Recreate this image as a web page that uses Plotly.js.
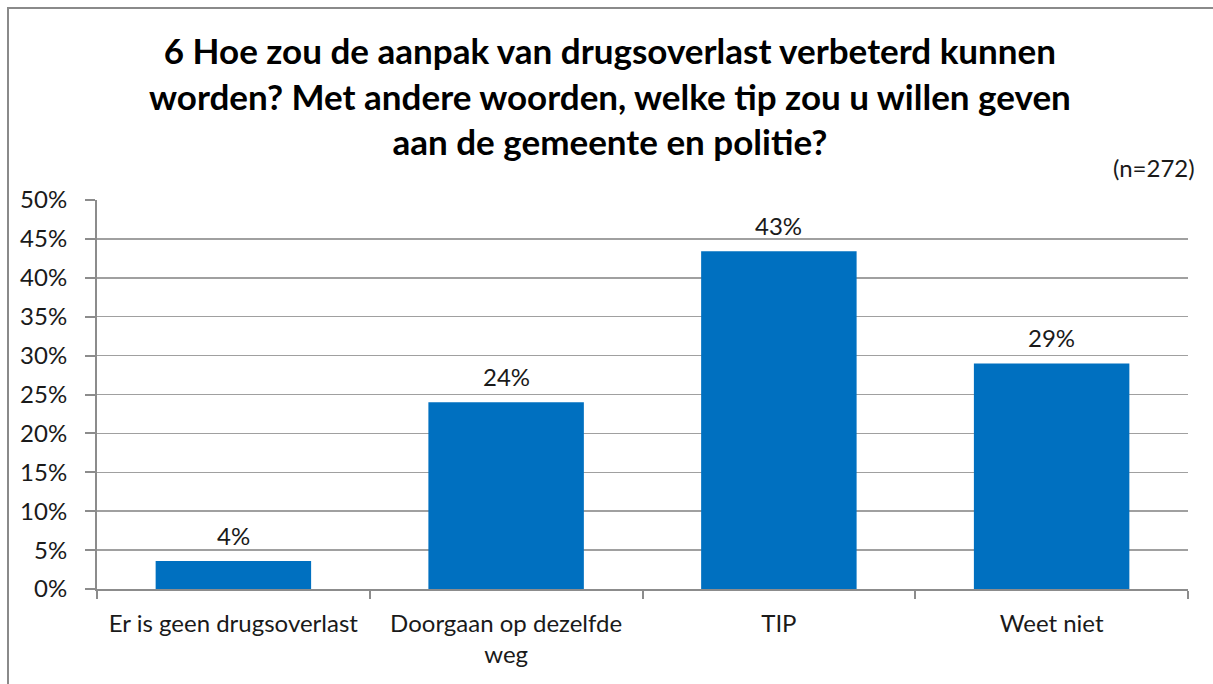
<!DOCTYPE html>
<html>
<head>
<meta charset="utf-8">
<script src="https://cdn.plot.ly/plotly-3.0.1.min.js"></script>
<style>
  html, body { margin: 0; padding: 0; background: #fff; }
  #chart { width: 1213px; height: 684px; }
  #frame { position: absolute; left: 7px; top: 7px; width: 1400px; height: 900px;
           border-left: 2px solid #8a8a8a; border-top: 2px solid #8a8a8a; pointer-events: none; }
</style>
</head>
<body>
<div id="chart"></div>
<div id="frame"></div>
<script>
const categories = ["Er is geen drugsoverlast", "Doorgaan op dezelfde<br>weg", "TIP", "Weet niet"];
const values = [3.6, 24.0, 43.4, 29.0];
const valueLabels = ["4%", "24%", "43%", "29%"];
const yTickVals = [0, 5, 10, 15, 20, 25, 30, 35, 40, 45, 50];
const yTickText = ["0%", "5%", "10%", "15%", "20%", "25%", "30%", "35%", "40%", "45%", "50%"];
const titleText = "6 Hoe zou de aanpak van drugsoverlast verbeterd kunnen<br>worden? Met andere woorden, welke tip zou u willen geven<br>aan de gemeente en politie?";
const noteText = "(n=272)";

const font = "Lato, 'Open Sans', sans-serif";

const trace = {
  type: "bar",
  x: categories,
  y: values,
  marker: { color: "#0070C0" },
  width: 0.57,
  hoverinfo: "skip"
};

const valueAnnotations = categories.map((c, i) => ({
  x: c, y: values[i], xref: "x", yref: "y",
  text: valueLabels[i],
  showarrow: false,
  xanchor: "center", yanchor: "bottom",
  yshift: 9,
  font: { family: font, size: 24, color: "#1a1a1a" }
}));

const layout = {
  width: 1213,
  height: 684,
  margin: { l: 97, r: 25, t: 200, b: 95 },
  paper_bgcolor: "#ffffff",
  plot_bgcolor: "#ffffff",
  showlegend: false,
  font: { family: font, color: "#1a1a1a", size: 24 },
  xaxis: {
    type: "category",
    showgrid: false,
    showline: true,
    linecolor: "#8c8c8c",
    linewidth: 2,
    ticks: "outside",
    tickson: "boundaries",
    ticklen: 8,
    tickcolor: "#8c8c8c",
    tickwidth: 2,
    ticklabelstandoff: 12,
    tickfont: { family: font, size: 24, color: "#1a1a1a" },
    fixedrange: true
  },
  yaxis: {
    range: [0, 50],
    tickvals: yTickVals,
    ticktext: yTickText,
    showgrid: true,
    gridcolor: "#a0a0a0",
    gridwidth: 1.5,
    showline: true,
    linecolor: "#8c8c8c",
    linewidth: 2,
    ticks: "outside",
    ticklen: 10,
    tickcolor: "#8c8c8c",
    tickwidth: 2,
    ticklabelstandoff: 13,
    tickfont: { family: font, size: 24, color: "#1a1a1a" },
    zeroline: false,
    fixedrange: true
  },
  annotations: [{
    text: titleText,
    xref: "paper", yref: "paper",
    x: 0.47, y: 1.268,
    xanchor: "center", yanchor: "middle",
    showarrow: false,
    font: { family: font, size: 35, color: "#000", weight: "bold" }
  }, {
    text: noteText,
    xref: "paper", yref: "paper",
    x: 1.008, y: 1.04,
    xanchor: "right", yanchor: "bottom",
    showarrow: false,
    font: { family: font, size: 24, color: "#1a1a1a" }
  }].concat(valueAnnotations)
};

Plotly.newPlot("chart", [trace], layout, { displayModeBar: false, staticPlot: true });
</script>
</body>
</html>
